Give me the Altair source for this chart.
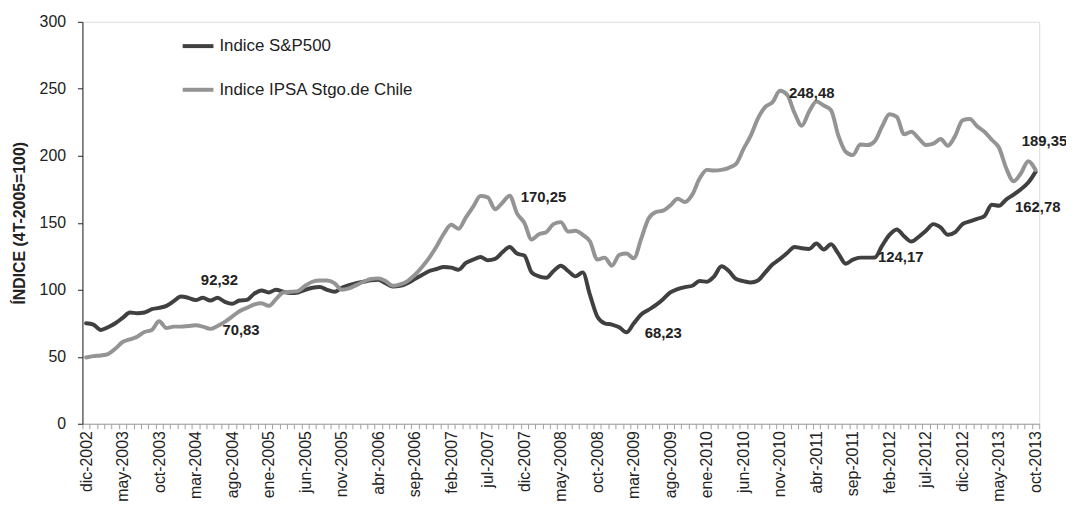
import altair as alt
import pandas as pd

ABBR = ["ene", "feb", "mar", "abr", "may", "jun", "jul", "ago", "sep", "oct", "nov", "dic"]
MONTHS = ["dic-2002"] + [f"{m}-{y}" for y in range(2003, 2014) for m in ABBR][:130]
TICK_LABELS = MONTHS[::5]

SP500 = [
    75, 74, 70, 72, 75, 79, 83, 82.5, 83, 85.5,
    86.5, 88, 91.5, 95, 94, 92.32, 94, 92, 94, 91,
    89.5, 92, 92.5, 97, 99.5, 98, 100, 98.5, 97.5, 98,
    100, 101.5, 102, 100, 98.5, 101.5, 103.5, 105, 106, 107,
    107.5, 105, 102.5, 103, 105, 108, 111, 114, 115.5, 117,
    116.5, 115, 120, 122.5, 124.5, 122, 123, 128, 132, 127,
    125.5, 113, 110, 109, 114, 118, 114, 110, 113, 96,
    80, 75, 74, 72, 68.23, 75, 81.5, 85, 88.5, 93,
    98, 100.5, 102, 103, 106.5, 106, 110, 117.5, 114, 108,
    106.5, 105.5, 107, 113, 119, 123, 127.5, 132, 131, 130.5,
    134.5, 130, 134, 127, 119.5, 122.5, 124, 124, 124.17, 133,
    141, 145, 140, 136, 139.5, 144, 149, 146.5, 141, 143,
    149, 151, 153, 155, 163.5, 162.78, 167.5, 171, 175, 180,
    188,
]

IPSA = [
    49.5, 50.5, 51, 52, 56, 61, 63, 65, 68.5, 70,
    76.5, 71.5, 72.5, 72.5, 73, 73.5, 72.5, 70.83, 73, 76,
    80, 84, 86.5, 89, 90, 88, 93, 98, 98.5, 99,
    103, 106, 107, 107, 105, 100, 101, 103.5, 106, 108,
    108.5, 106.5, 103, 104, 106.5, 111, 117, 124, 132.5, 142,
    148.5, 145.5, 154, 162, 170, 169, 160, 165, 170.25, 157,
    150, 137.5, 141.5, 143, 149, 150.5, 143.5, 144, 141, 136,
    122.5, 124, 118, 126, 127, 123.5, 138, 153, 158, 159,
    163, 168, 165.5, 171, 183, 189.5, 189, 189.5, 191, 194,
    205, 215, 228, 236.5, 240, 248.48, 245.5, 232, 222.5, 233,
    240.5, 237.5, 234, 215, 203, 200.5, 208.5, 208, 211, 222,
    231, 229, 216, 218, 213, 208, 209, 212.5, 207.5, 215,
    226.5, 227.5, 222, 218, 212, 206, 190.5, 181, 187, 196,
    189.35,
]

SERIES = ["Indice S&P500", "Indice IPSA Stgo.de Chile"]
COLORS = ["#404040", "#949494"]

# (series, month index, label text)
ANNOTATIONS = [
    (0, 15, "92,32"),
    (1, 17, "70,83"),
    (1, 58, "170,25"),
    (0, 74, "68,23"),
    (1, 95, "248,48"),
    (0, 108, "124,17"),
    (1, 130, "189,35"),
    (0, 125, "162,78"),
]
OFFSETS = [(24, -20), (31, 1), (34, 1), (37, 1), (32, 2), (26, 0), (9, -29), (39, 1)]

FONT = "Liberation Sans"

df = pd.concat([
    pd.DataFrame({"mes": MONTHS, "valor": SP500, "serie": SERIES[0]}),
    pd.DataFrame({"mes": MONTHS, "valor": IPSA, "serie": SERIES[1]}),
])

label_expr = "indexof([" + ",".join(f"'{t}'" for t in TICK_LABELS) + "], datum.value) >= 0 ? datum.value : ''"

x_enc = alt.X(
    "mes:O",
    scale=alt.Scale(type="band", domain=MONTHS, paddingInner=0, paddingOuter=0),
    axis=alt.Axis(
        title=None,
        labelAngle=-90,
        labelExpr=label_expr,
        labelOverlap=False,
        labelFont=FONT,
        labelFontSize=16,
        labelColor="#222222",
        labelPadding=2,
        tickBand="extent",
        tickSize=5,
        tickColor="#a0a0a0",
        domainColor="#a0a0a0",
        grid=False,
    ),
)
y_enc = alt.Y(
    "valor:Q",
    scale=alt.Scale(domain=[0, 300], nice=False),
    axis=alt.Axis(
        title="ÍNDICE (4T-2005=100)",
        values=[0, 50, 100, 150, 200, 250, 300],
        labelFont=FONT,
        labelFontSize=16,
        labelColor="#222222",
        labelPadding=12,
        tickSize=5,
        tickColor="#222222",
        domainColor="#222222",
        grid=False,
        titleFont=FONT,
        titleFontSize=16,
        titleFontWeight="bold",
        titleColor="#222222",
        titlePadding=12,
    ),
)
color_enc = alt.Color(
    "serie:N",
    scale=alt.Scale(domain=SERIES, range=COLORS),
    legend=alt.Legend(
        title=None,
        orient="none",
        legendX=99,
        legendY=7,
        symbolType="stroke",
        symbolSize=961,
        symbolStrokeWidth=4,
        labelFont=FONT,
        labelFontSize=17,
        labelColor="#222222",
        labelOffset=4,
        labelLimit=0,
        rowPadding=18,
        padding=0,
    ),
)

layers = []
for s in SERIES:
    layers.append(
        alt.Chart(df)
        .transform_filter(alt.datum.serie == s)
        .mark_line(strokeWidth=4, strokeJoin="round", strokeCap="round", interpolate="monotone")
        .encode(x=x_enc, y=y_enc, color=color_enc)
    )

for (si, idx, text), (dx, dy) in zip(ANNOTATIONS, OFFSETS):
    vals = SP500 if si == 0 else IPSA
    adf = pd.DataFrame({"mes": [MONTHS[idx]], "valor": [vals[idx]], "texto": [text]})
    layers.append(
        alt.Chart(adf)
        .mark_text(dx=dx, dy=dy, font=FONT, fontSize=15, fontWeight="bold", color="#222222",
                   align="center", baseline="middle")
        .encode(x=x_enc, y=y_enc, text="texto:N")
    )

chart = (
    alt.layer(*layers)
    .properties(
        width=964,
        height=405,
        autosize=alt.AutoSizeParams(type="none"),
        padding={"left": 75, "top": 12, "right": 27, "bottom": 88},
    )
    .configure_view(stroke=None)
    .configure(background="white")
)

chart.save("out.html", embed_options={"renderer": "svg", "actions": False})
